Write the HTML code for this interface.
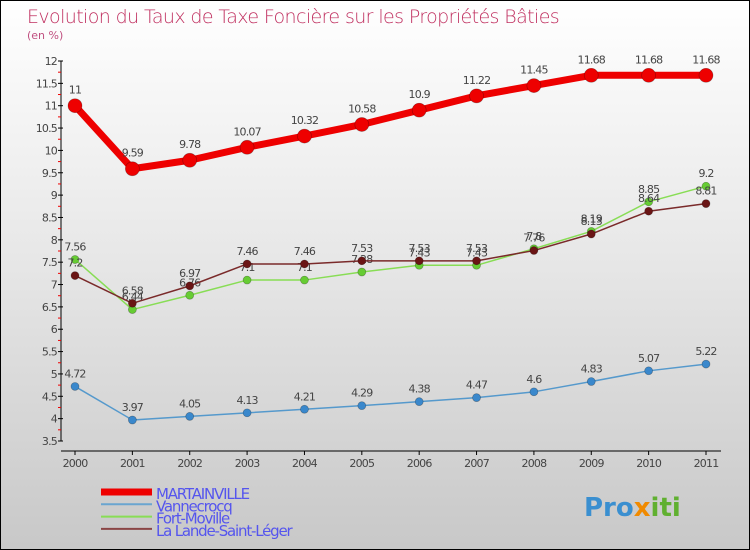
<!DOCTYPE html>
<html><head><meta charset="utf-8">
<style>
html,body{margin:0;padding:0}
body{width:750px;height:550px;overflow:hidden;font-family:"DejaVu Sans","Liberation Sans",sans-serif}
#wrap{position:relative;width:748px;height:548px;border:1px solid #000;background:linear-gradient(#fff 0%,#e8e8e8 45%,#c8c8c8 100%)}
</style></head><body>
<div id="wrap">
<svg id="chart" width="748" height="548" style="position:absolute;left:0;top:0">
<text x="26" y="22" font-size="19" fill="#c03060" font-family="DejaVu Sans" letter-spacing="-0.6" font-weight="200">Evolution du Taux de Taxe Foncière sur les Propriétés Bâties</text>
<text x="26" y="38" font-size="11" fill="#c05080">(en %)</text>
<g id="axes"></g>
<g id="series"></g>
<g id="legend"></g>
<text x="583" y="515" font-size="26" font-weight="bold"><tspan fill="#3a8fd0">Pro</tspan><tspan fill="#f08a00">x</tspan><tspan fill="#60b030">iti</tspan></text>
</svg>
</div>
<script>
const years=["2000","2001","2002","2003","2004","2005","2006","2007","2008","2009","2010","2011"];
const martainville=[11,9.59,9.78,10.07,10.32,10.58,10.9,11.22,11.45,11.68,11.68,11.68];
const vannecrocq=[4.72,3.97,4.05,4.13,4.21,4.29,4.38,4.47,4.6,4.83,5.07,5.22];
const fortMoville=[7.56,6.44,6.76,7.1,7.1,7.28,7.43,7.43,7.8,8.19,8.85,9.2];
const laLande=[7.2,6.58,6.97,7.46,7.46,7.53,7.53,7.53,7.76,8.13,8.64,8.81];
const yTicks=["3.5","4","4.5","5","5.5","6","6.5","7","7.5","8","8.5","9","9.5","10","10.5","11","11.5","12"];
const seriesNames=["MARTAINVILLE","Vannecrocq","Fort-Moville","La Lande-Saint-Léger"];

const NS="http://www.w3.org/2000/svg";
const yMin=3.5,yMax=12,yTop=60,yBot=440;
function y(v){return yBot-(v-yMin)/(yMax-yMin)*(yBot-yTop);}
function x(i){return 74+i*(631/(years.length-1));}
function mk(tag,attrs,parent,txt){const e=document.createElementNS(NS,tag);for(const k in attrs)e.setAttribute(k,attrs[k]);if(txt!==undefined)e.textContent=txt;parent.appendChild(e);return e;}
const axes=document.getElementById('axes');
let l=mk('line',{x1:60,y1:yTop,x2:60,y2:yBot,stroke:'#000','stroke-width':1},axes);


l=mk('line',{x1:60,y1:450,x2:720,y2:450,stroke:'#000','stroke-width':1},axes);


yTicks.forEach(t=>{const v=parseFloat(t);const yy=y(v);
 mk('line',{x1:57,y1:yy,x2:62,y2:yy,stroke:'#000'},axes);
 if(v<yMax)mk('line',{x1:57,y1:y(v+0.25),x2:60,y2:y(v+0.25),stroke:'#e00'},axes);
 const tx=mk('text',{x:56,y:yy+4,'text-anchor':'end','font-size':11,fill:'#444','letter-spacing':'-0.8'},axes,t);
 
 
});
years.forEach((yr,i)=>{
 mk('line',{x1:x(i),y1:450,x2:x(i),y2:454,stroke:'#000'},axes);
 const tx=mk('text',{x:x(i),y:466,'text-anchor':'middle','font-size':11,fill:'#444','letter-spacing':'-0.8'},axes,yr);
 
 
});
const sg=document.getElementById('series');
const defs=[
 {d:fortMoville,c:'#88dd55',pc:'#66cc33',w:1.5,r:4,n:'fort-moville'},
 {d:laLande,c:'#7a2a2a',pc:'#6a1515',w:1.5,r:4,n:'la-lande-saint-leger'},
 {d:vannecrocq,c:'#5599cc',pc:'#3a88cc',w:1.5,r:4,n:'vannecrocq'},
 {d:martainville,c:'#ee0000',pc:'#ee0000',w:7,r:7,n:'martainville'}];
defs.forEach(s=>{
 const g=mk('g',{},sg);
 
 
 const p=mk('polyline',{points:s.d.map((v,i)=>x(i)+','+y(v)).join(' '),fill:'none',stroke:s.c,'stroke-width':s.w,'stroke-linejoin':'round'},g);
 
 
 s.d.forEach((v,i)=>{
  const c=mk('circle',{cx:x(i),cy:y(v),r:s.r,fill:s.pc,stroke:'rgba(0,0,0,0.3)','stroke-width':0.7},g);
  
  
  const t=mk('text',{x:x(i),y:y(v)-(s.r+5),'text-anchor':'middle','font-size':11,fill:'#444','letter-spacing':'-0.8'},g,String(v));
  
  
 });
});
const lg=document.getElementById('legend');
const lc=['#ee0000','#6aa5d0','#88dd55','#8a4545'];const lw=[7,2,2,2];
seriesNames.forEach((n,i)=>{
 const g=mk('g',{},lg);
 
 
 const yy=491+i*12.3;
 mk('line',{x1:100,y1:yy,x2:151,y2:yy,stroke:lc[i],'stroke-width':lw[i]},g);
 mk('text',{x:155,y:yy+7,'font-size':15,fill:'#5555ee','letter-spacing':'-1.2'},g,n);
});
</script>
</body></html>
